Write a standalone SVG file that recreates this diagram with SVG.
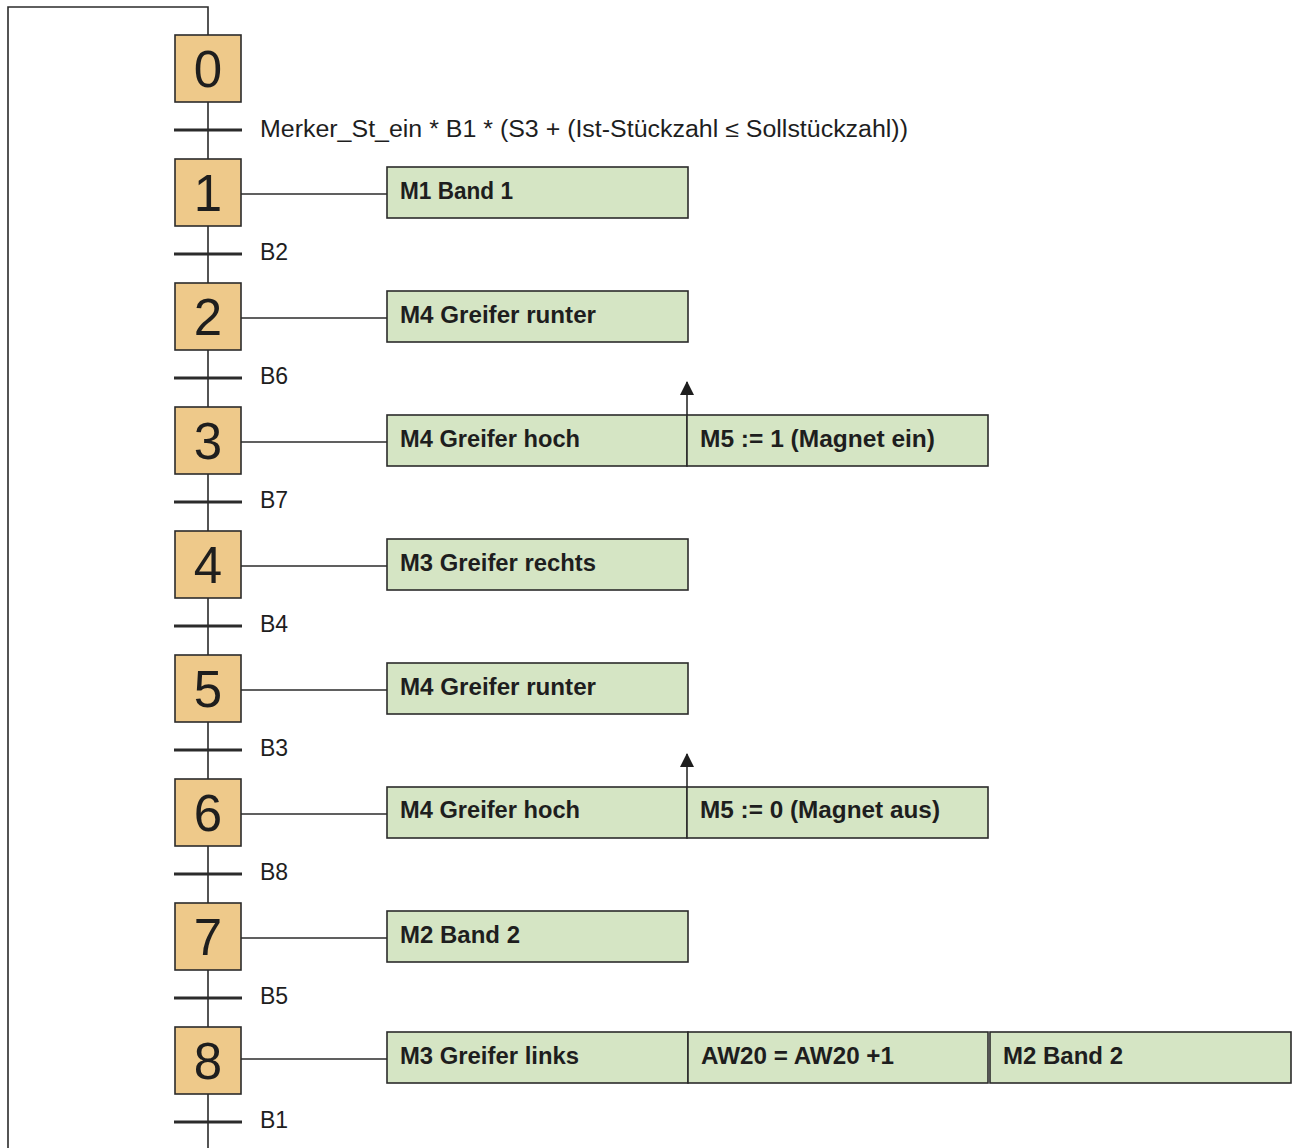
<svg xmlns="http://www.w3.org/2000/svg" width="1295" height="1148" viewBox="0 0 1295 1148">
  <style>
    .step { fill: #EEC98A; stroke: #2b2b2b; stroke-width: 1.6; }
    .num { font-family: "Liberation Sans", Arial, sans-serif; font-size: 51px; fill: #1e1e1e; text-anchor: middle; }
    .act { fill: #D5E5C4; stroke: #2b2b2b; stroke-width: 1.6; }
    .atext { font-family: "Liberation Sans", Arial, sans-serif; font-size: 23px; font-weight: bold; fill: #1e1e1e; }
    .ttext { font-family: "Liberation Sans", Arial, sans-serif; font-size: 23px; fill: #1e1e1e; }
    .wire { stroke: #2b2b2b; stroke-width: 1.6; fill: none; }
    .bar { stroke: #2b2b2b; stroke-width: 3; }
  </style>
  <defs>
    <marker id="head" markerWidth="14" markerHeight="14" refX="13" refY="7" orient="auto" markerUnits="userSpaceOnUse" viewBox="0 0 14 14">
      <path d="M0,0 L14,7 L0,14 Z" fill="#1e1e1e"/>
    </marker>
  </defs>
  <rect width="1295" height="1148" fill="#ffffff"/>

  <g id="connectors">
    <!-- return loop and main trunk -->
    <polyline class="wire" points="8,1148 8,7 208,7 208,1148"/>
    <!-- step to action links -->
    <line class="wire" x1="241" y1="194" x2="387" y2="194"/>
    <line class="wire" x1="241" y1="318" x2="387" y2="318"/>
    <line class="wire" x1="241" y1="442" x2="387" y2="442"/>
    <line class="wire" x1="241" y1="566" x2="387" y2="566"/>
    <line class="wire" x1="241" y1="690" x2="387" y2="690"/>
    <line class="wire" x1="241" y1="814" x2="387" y2="814"/>
    <line class="wire" x1="241" y1="938" x2="387" y2="938"/>
    <line class="wire" x1="241" y1="1059" x2="387" y2="1059"/>
  </g>

  <g id="transitions">
    <line class="bar" x1="174" y1="130" x2="242" y2="130"/>
    <text class="ttext" x="260" y="137" textLength="648" lengthAdjust="spacingAndGlyphs">Merker_St_ein * B1 * (S3 + (Ist-Stückzahl ≤ Sollstückzahl))</text>
    <line class="bar" x1="174" y1="254" x2="242" y2="254"/>
    <text class="ttext" x="260" y="260">B2</text>
    <line class="bar" x1="174" y1="378" x2="242" y2="378"/>
    <text class="ttext" x="260" y="384">B6</text>
    <line class="bar" x1="174" y1="502" x2="242" y2="502"/>
    <text class="ttext" x="260" y="508">B7</text>
    <line class="bar" x1="174" y1="626" x2="242" y2="626"/>
    <text class="ttext" x="260" y="632">B4</text>
    <line class="bar" x1="174" y1="750" x2="242" y2="750"/>
    <text class="ttext" x="260" y="756">B3</text>
    <line class="bar" x1="174" y1="874" x2="242" y2="874"/>
    <text class="ttext" x="260" y="880">B8</text>
    <line class="bar" x1="174" y1="998" x2="242" y2="998"/>
    <text class="ttext" x="260" y="1004">B5</text>
    <line class="bar" x1="174" y1="1122" x2="242" y2="1122"/>
    <text class="ttext" x="260" y="1128">B1</text>
  </g>

  <g id="step0"><rect class="step" x="175" y="35" width="66" height="67"/><text class="num" x="208" y="87">0</text></g>
  <g id="step1"><rect class="step" x="175" y="159" width="66" height="67"/><text class="num" x="208" y="211">1</text></g>
  <g id="step2"><rect class="step" x="175" y="283" width="66" height="67"/><text class="num" x="208" y="335">2</text></g>
  <g id="step3"><rect class="step" x="175" y="407" width="66" height="67"/><text class="num" x="208" y="459">3</text></g>
  <g id="step4"><rect class="step" x="175" y="531" width="66" height="67"/><text class="num" x="208" y="583">4</text></g>
  <g id="step5"><rect class="step" x="175" y="655" width="66" height="67"/><text class="num" x="208" y="707">5</text></g>
  <g id="step6"><rect class="step" x="175" y="779" width="66" height="67"/><text class="num" x="208" y="831">6</text></g>
  <g id="step7"><rect class="step" x="175" y="903" width="66" height="67"/><text class="num" x="208" y="955">7</text></g>
  <g id="step8"><rect class="step" x="175" y="1027" width="66" height="67"/><text class="num" x="208" y="1079">8</text></g>

  <g id="action1"><rect class="act" x="387" y="167" width="301" height="51"/><text class="atext" x="400" y="199" textLength="113" lengthAdjust="spacingAndGlyphs">M1 Band 1</text></g>
  <g id="action2"><rect class="act" x="387" y="291" width="301" height="51"/><text class="atext" x="400" y="323" textLength="196" lengthAdjust="spacingAndGlyphs">M4 Greifer runter</text></g>
  <g id="action3">
    <rect class="act" x="387" y="415" width="300" height="51"/><text class="atext" x="400" y="447" textLength="180" lengthAdjust="spacingAndGlyphs">M4 Greifer hoch</text>
    <rect class="act" x="687" y="415" width="301" height="51"/><text class="atext" x="700" y="447" textLength="235" lengthAdjust="spacingAndGlyphs">M5 := 1 (Magnet ein)</text>
    <line class="wire" x1="687" y1="415" x2="687" y2="382" marker-end="url(#head)"/>
  </g>
  <g id="action4"><rect class="act" x="387" y="539" width="301" height="51"/><text class="atext" x="400" y="571" textLength="196" lengthAdjust="spacingAndGlyphs">M3 Greifer rechts</text></g>
  <g id="action5"><rect class="act" x="387" y="663" width="301" height="51"/><text class="atext" x="400" y="695" textLength="196" lengthAdjust="spacingAndGlyphs">M4 Greifer runter</text></g>
  <g id="action6">
    <rect class="act" x="387" y="787" width="300" height="51"/><text class="atext" x="400" y="818" textLength="180" lengthAdjust="spacingAndGlyphs">M4 Greifer hoch</text>
    <rect class="act" x="687" y="787" width="301" height="51"/><text class="atext" x="700" y="818" textLength="240" lengthAdjust="spacingAndGlyphs">M5 := 0 (Magnet aus)</text>
    <line class="wire" x1="687" y1="787" x2="687" y2="754" marker-end="url(#head)"/>
  </g>
  <g id="action7"><rect class="act" x="387" y="911" width="301" height="51"/><text class="atext" x="400" y="943" textLength="120" lengthAdjust="spacingAndGlyphs">M2 Band 2</text></g>
  <g id="action8">
    <rect class="act" x="387" y="1032" width="301" height="51"/><text class="atext" x="400" y="1064" textLength="179" lengthAdjust="spacingAndGlyphs">M3 Greifer links</text>
    <rect class="act" x="688" y="1032" width="300" height="51"/><text class="atext" x="701" y="1064" textLength="193" lengthAdjust="spacingAndGlyphs">AW20 = AW20 +1</text>
    <rect class="act" x="990" y="1032" width="301" height="51"/><text class="atext" x="1003" y="1064" textLength="120" lengthAdjust="spacingAndGlyphs">M2 Band 2</text>
  </g>
</svg>
